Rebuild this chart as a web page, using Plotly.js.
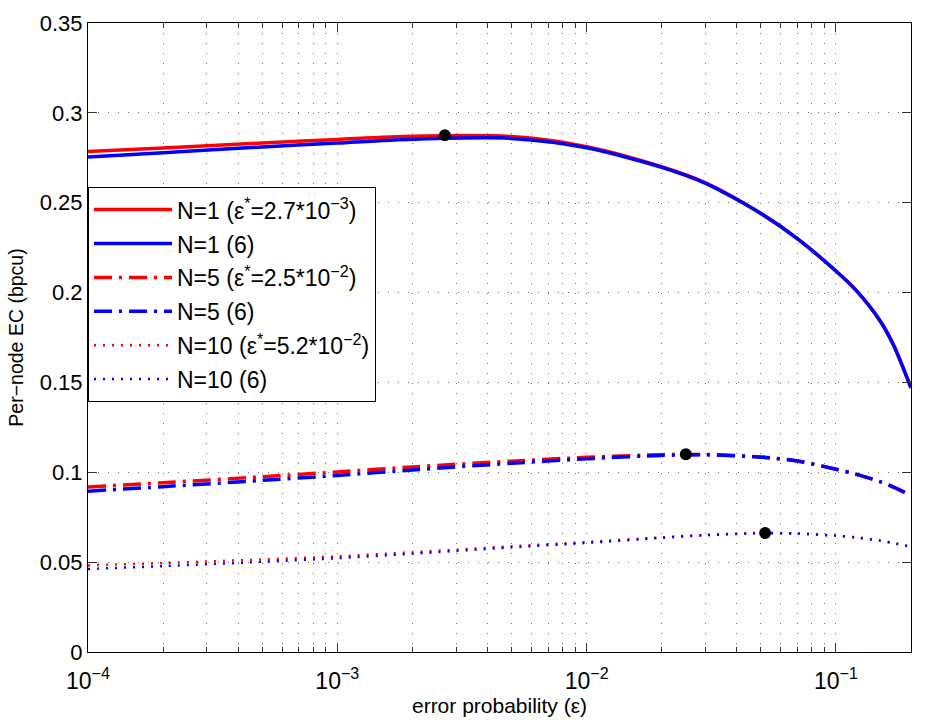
<!DOCTYPE html>
<html>
<head>
<meta charset="utf-8">
<script src="https://cdn.plot.ly/plotly-3.0.1.min.js"></script>
<style>html,body{margin:0;padding:0;background:#fff;}#chart{width:942px;height:725px;}</style>
</head>
<body>
<div id="chart"></div>
<script>
// error probability samples
const eps = [1e-4, 2e-4, 5e-4, 1e-3, 2e-3, 5e-3, 1e-2, 2e-2, 3e-2, 5e-2, 7e-2, 0.1, 0.12, 0.15, 0.17, 0.2];
// per-node EC (bpcu)
const n1Exact = [0.2785, 0.2805, 0.2832, 0.2852, 0.2870, 0.2868, 0.2812, 0.2700, 0.2610, 0.2440, 0.2300, 0.2120, 0.2015, 0.1845, 0.1710, 0.1470];
const n1Approx = [0.2755, 0.2778, 0.2810, 0.2832, 0.2853, 0.2858, 0.2806, 0.2697, 0.2608, 0.2440, 0.2300, 0.2120, 0.2015, 0.1845, 0.1710, 0.1470];
const n5Exact = [0.0918, 0.0942, 0.0975, 0.1002, 0.1030, 0.1062, 0.1083, 0.1098, 0.1099, 0.1085, 0.1063, 0.1017, 0.0990, 0.0948, 0.0918, 0.0872];
const n5Approx = [0.0895, 0.0920, 0.0955, 0.0982, 0.1013, 0.1050, 0.1075, 0.1094, 0.1097, 0.1084, 0.1063, 0.1017, 0.0990, 0.0948, 0.0918, 0.0872];
const n10Exact = [0.0482, 0.0495, 0.0515, 0.0532, 0.0555, 0.0588, 0.0612, 0.0638, 0.0652, 0.0662, 0.0659, 0.0647, 0.0638, 0.0620, 0.0606, 0.0585];
const n10Approx = [0.0462, 0.0478, 0.0502, 0.0522, 0.0547, 0.0582, 0.0607, 0.0635, 0.0650, 0.0661, 0.0659, 0.0647, 0.0638, 0.0620, 0.0606, 0.0585];
// optimum points
const optEps = [2.7e-3, 2.5e-2, 5.2e-2];
const optEC = [0.2875, 0.1100, 0.0662];

const legendNames = [
  'N=1 (ε<sup>*</sup>=2.7*10<sup>−3</sup>)',
  'N=1 (6)',
  'N=5 (ε<sup>*</sup>=2.5*10<sup>−2</sup>)',
  'N=5 (6)',
  'N=10 (ε<sup>*</sup>=5.2*10<sup>−2</sup>)',
  'N=10 (6)'
];
const xTickVals = [1e-4, 1e-3, 1e-2, 1e-1];
const xTickText = ['10<sup>−4</sup>', '10<sup>−3</sup>', '10<sup>−2</sup>', '10<sup>−1</sup>'];
const yTickVals = [0, 0.05, 0.1, 0.15, 0.2, 0.25, 0.3, 0.35];
const yTickText = ['0', '0.05', '0.1', '0.15', '0.2', '0.25', '0.3', '0.35'];

const minorVals = [];
[1e-4, 1e-3, 1e-2, 1e-1].forEach(d => { for (let k = 2; k <= 9; k++) { const v = d * k; if (v <= 0.2 + 1e-12) minorVals.push(v); } });

const RED = '#ff0000', BLUE = '#0000ff';
const series = [
  {y: n1Exact, c: RED, dash: 'solid', w: 3.5},
  {y: n1Approx, c: BLUE, dash: 'solid', w: 3.5},
  {y: n5Exact, c: RED, dash: '18px,7px,3px,7px', w: 3.5},
  {y: n5Approx, c: BLUE, dash: '18px,7px,3px,7px', w: 3.5},
  {y: n10Exact, c: RED, dash: '2px,7px', w: 2.5},
  {y: n10Approx, c: BLUE, dash: '2px,7px', w: 2.5}
];
const traces = series.map((s, i) => ({
  x: eps, y: s.y, type: 'scatter', mode: 'lines', name: legendNames[i],
  legendgroup: 'g' + i,
  line: {color: s.c, width: s.w, dash: s.dash, shape: 'spline', smoothing: 0.8}
}));
traces.push({
  x: optEps, y: optEC, type: 'scatter', mode: 'markers', showlegend: false,
  marker: {color: '#000', size: 12}
});

const FONT = '"Liberation Sans", Arial, Helvetica, sans-serif';
const gridCol = 'rgba(0,0,0,0.55)';
const layout = {
  width: 942, height: 725,
  margin: {l: 88, r: 31, t: 23, b: 73},
  paper_bgcolor: '#fff', plot_bgcolor: '#fff',
  font: {family: FONT, color: '#000', size: 21},
  showlegend: true,
  legend: {
    x: 0, y: 0.739, xanchor: 'left', yanchor: 'top',
    bgcolor: '#fff', bordercolor: '#000', borderwidth: 1,
    font: {family: FONT, size: 23, color: '#000'},
    itemwidth: 78,
    tracegroupgap: 1
  },
  xaxis: {
    type: 'log', range: [-4, Math.log10(0.2)],
    tickvals: xTickVals, ticktext: xTickText,
    ticks: 'inside', ticklen: 9, tickcolor: '#333', tickwidth: 1,
    showline: true, linecolor: '#000', linewidth: 1, mirror: 'allticks',
    showgrid: true, gridcolor: gridCol, griddash: '1px,9px', gridwidth: 1,
    zeroline: false,
    tickfont: {size: 23},
    ticklabelstandoff: 8,
    minor: {tickvals: minorVals, ticks: 'inside', ticklen: 5, tickcolor: '#333',
            showgrid: true, gridcolor: gridCol, griddash: '1px,9px', gridwidth: 1},
    title: {text: 'error probability (ε)', font: {size: 21}, standoff: 5},
    automargin: false
  },
  yaxis: {
    range: [0, 0.35],
    tickvals: yTickVals, ticktext: yTickText,
    ticks: 'inside', ticklen: 9, tickcolor: '#333', tickwidth: 1,
    showline: true, linecolor: '#000', linewidth: 1, mirror: 'allticks',
    showgrid: true, gridcolor: gridCol, griddash: '1px,9px', gridwidth: 1,
    zeroline: false,
    tickfont: {size: 22},
    title: {text: 'Per−node EC (bpcu)', font: {size: 19.5}, standoff: 10},
    automargin: false
  }
};
Plotly.newPlot('chart', traces, layout, {staticPlot: true, displayModeBar: false});
</script>
</body>
</html>
